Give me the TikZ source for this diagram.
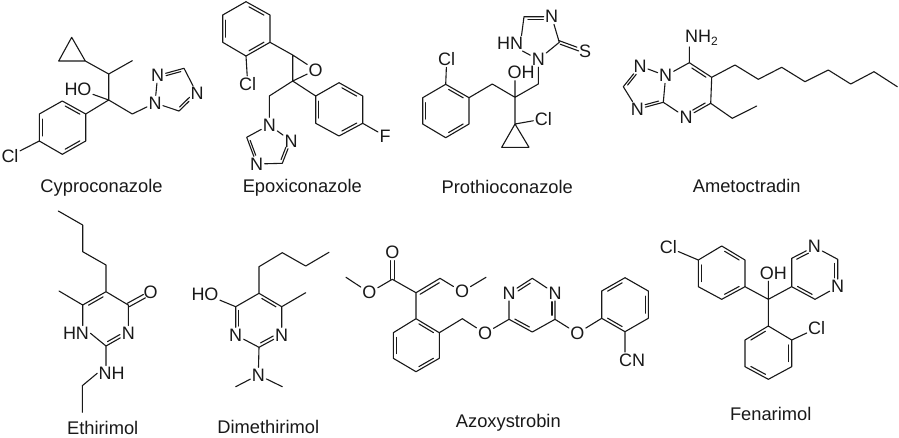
\documentclass[tikz,border=0pt]{standalone}
\usepackage{fontspec}
\setmainfont{Liberation Sans}
\usetikzlibrary{calc}
\tikzset{
  bond/.style={line width=1.1pt,line cap=round,line join=round,color=black!90},
  atom/.style={font=\fontsize{18}{18}\selectfont,inner sep=1.3pt,text=black!90},
  cname/.style={font=\fontsize{18.3}{18.3}\selectfont,inner sep=0pt,text=black!90}
}
\newcommand{\mkc}[3]{\coordinate (#1) at (#2,#3);}
\newcommand{\atm}[4]{\node[atom] (#1) at (#2,#3) {#4};}
% ring double bond: inner line moved toward centre #3, end fractions #4 #5
\newcommand{\rdb}[5]{\draw[bond] ($(#1)!#4!(#2)!.13!(#3)$) -- ($(#2)!#5!(#1)!.13!(#3)$);}
\begin{document}
\begin{tikzpicture}[x=1pt,y=-1pt]
\useasboundingbox (0,0) rectangle (899,437);
\fill[white] (0,0) rectangle (899,437);

%% Cyproconazole
\mkc{a1}{71.7}{37.3}\mkc{a2}{58.7}{61}\mkc{a3}{85.3}{61}
\mkc{a4}{108.7}{74}\mkc{a5}{132.3}{60.7}\mkc{a6}{108.7}{100}\mkc{a7}{132.3}{114}
\atm{aho}{78}{89}{HO}
\atm{an1}{155}{103}{N}\atm{an2}{157.7}{75.5}{N}\atm{an4}{197}{93.5}{N}
\mkc{ac3}{184}{68.3}\mkc{ac5}{179}{111}\mkc{atz}{173}{90}
\mkc{ap1}{85.7}{114}\mkc{ap2}{62.3}{101}\mkc{ap3}{39.3}{114}\mkc{ap4}{39.3}{141}\mkc{ap5}{62.3}{154.3}\mkc{ap6}{85.7}{141}\mkc{apc}{62.5}{127.5}
\atm{acl}{10}{156}{Cl}
\draw[bond] (a1)--(a2)--(a3)--cycle (a3)--(a4)--(a5) (a4)--(a6)--(a7)--(an1)--(an2) (an2)--(ac3)--(an4)--(ac5)--(an1) (a6)--(aho) (a6)--(ap1)--(ap2)--(ap3)--(ap4)--(ap5)--(ap6)--(ap1) (ap4)--(acl);
\rdb{ap1}{ap2}{apc}{.14}{.14}\rdb{ap3}{ap4}{apc}{.14}{.14}\rdb{ap5}{ap6}{apc}{.14}{.14}
\rdb{an2}{ac3}{atz}{.28}{.08}\rdb{an4}{ac5}{atz}{.28}{.08}
\node[cname] (aname) at (101.5,188) {Cyproconazole};

%% Epoxiconazole
\mkc{b1}{246}{1.7}\mkc{b2}{270}{15}\mkc{b3}{270}{42.3}\mkc{b4}{246}{56}\mkc{b5}{222.7}{42.3}\mkc{b6}{222.7}{15}\mkc{bc}{246.3}{28.7}
\atm{bcl}{247.7}{84}{Cl}
\mkc{be1}{292.7}{55}\mkc{be2}{292.7}{81}\atm{bo}{315.7}{70}{O}
\mkc{bch}{269.3}{96}\atm{bn1}{269.3}{125}{N}\atm{bn2}{291}{141}{N}\mkc{bc3}{282.3}{163.3}\atm{bn4}{256.7}{164}{N}\mkc{bc5}{246.7}{137.3}\mkc{btz}{268}{147}
\mkc{bf1}{315.7}{96}\mkc{bf2}{339}{82.7}\mkc{bf3}{362.7}{96}\mkc{bf4}{362.7}{123.3}\mkc{bf5}{339}{136}\mkc{bf6}{315.7}{123.3}\mkc{bfc}{339}{109.5}
\atm{bf}{385}{136}{F}
\draw[bond] (b1)--(b2)--(b3)--(b4)--(b5)--(b6)--(b1) (b4)--(bcl) (b3)--(be1)--(be2) (be1)--(bo)--(be2) (be2)--(bch)--(bn1)--(bn2)--(bc3)--(bn4)--(bc5)--(bn1) (be2)--(bf1)--(bf2)--(bf3)--(bf4)--(bf5)--(bf6)--(bf1) (bf4)--(bf);
\rdb{b1}{b2}{bc}{.14}{.14}\rdb{b3}{b4}{bc}{.14}{.14}\rdb{b5}{b6}{bc}{.14}{.14}
\rdb{bf2}{bf3}{bfc}{.14}{.14}\rdb{bf4}{bf5}{bfc}{.14}{.14}\rdb{bf6}{bf1}{bfc}{.14}{.14}
\rdb{bn2}{bc3}{btz}{.28}{.08}\rdb{bn4}{bc5}{btz}{.28}{.08}
\node[cname] (bname) at (302.3,188) {Epoxiconazole};

%% Prothioconazole
\mkc{c1}{469}{97.7}\mkc{c2}{445.7}{84.3}\mkc{c3}{422.7}{97.7}\mkc{c4}{422.7}{124}\mkc{c5}{445.7}{137.7}\mkc{c6}{469}{124}\mkc{cc}{446}{111}
\atm{ccl}{446.7}{59.3}{Cl}
\mkc{cd}{492.3}{84}\mkc{ce}{515}{97.3}\mkc{cf}{538.3}{84}
\atm{coh}{521}{72.7}{OH}
\mkc{cg}{515}{124}\mkc{ch}{501.7}{147.3}\mkc{ci}{529}{147.3}\atm{ccl2}{543.3}{119}{Cl}
\atm{cn1}{538.3}{59.5}{N}\atm{chn}{510}{43.3}{HN}\mkc{cj}{524}{16.7}\atm{cn4}{551.7}{16.7}{N}\mkc{ck}{559.3}{42.3}\mkc{cz}{540}{36}
\atm{cs}{585}{51.7}{S}
\draw[bond] (c1)--(c2)--(c3)--(c4)--(c5)--(c6)--(c1) (c2)--(ccl) (c1)--(cd)--(ce)--(cf)--(cn1)--(ck)--(cn4)--(cj) (cj)--($(chn.north east)+(-3,0)$) ($(chn.south east)+(-2,0)$)--(cn1) (ce)--(ce|-coh.south) (ce)--(cg)--(ch)--(ci)--(cg)--(ccl2);
\rdb{c1}{c2}{cc}{.14}{.14}\rdb{c3}{c4}{cc}{.14}{.14}\rdb{c5}{c6}{cc}{.14}{.14}
\rdb{cj}{cn4}{cz}{.08}{.28}
\draw[bond] ($(ck)+(-.9,-1.9)$)--($(ck)!.72!(cs)+(-.9,-1.9)$) ($(ck)+(.9,1.9)$)--($(ck)!.72!(cs)+(.9,1.9)$);
\node[cname] (cname) at (507.3,187.3) {Prothioconazole};

%% Ametoctradin
\mkc{d1}{689.3}{62.7}\mkc{d2}{711.7}{77.3}\mkc{d3}{710.7}{103.3}\atm{dn4}{686}{117.3}{N}\mkc{d5}{663.3}{102.3}\atm{dn6}{665.7}{75.7}{N}\mkc{dc}{688}{90}
\atm{dn7}{640}{66}{N}\mkc{d8}{623.3}{86.7}\atm{dn9}{637.3}{109.3}{N}\mkc{dz}{645}{88}
\node[atom] (dnh) at (701.5,37.7) {NH\raisebox{-3pt}{\fontsize{12}{12}\selectfont 2}};
\mkc{e1}{735}{65}\mkc{e2}{758.3}{79.3}\mkc{e3}{781.7}{67.3}\mkc{e4}{805}{81.7}\mkc{e5}{828.3}{70}\mkc{e6}{850.7}{84}\mkc{e7}{874}{71.7}\mkc{e8}{897.3}{86.7}
\mkc{f1}{732.3}{118.3}\mkc{f2}{756.7}{106}
\draw[bond] (d1)--(d2)--(d3)--(dn4)--(d5)--(dn6)--(d1) (d1)--(d1|-dnh.south) (dn6)--(dn7)--(d8)--(dn9)--(d5) (d2)--(e1)--(e2)--(e3)--(e4)--(e5)--(e6)--(e7)--(e8) (d3)--(f1)--(f2);
\rdb{d1}{d2}{dc}{.14}{.14}\rdb{d3}{dn4}{dc}{.12}{.3}
\rdb{dn7}{d8}{dz}{.3}{.1}\rdb{dn9}{d5}{dz}{.3}{.1}
\node[cname] (dname) at (746.7,185.7) {Ametoctradin};

%% Ethirimol
\mkc{g1}{58.3}{211}\mkc{g2}{82.7}{225}\mkc{g3}{82.7}{251.7}\mkc{g4}{106}{265}
\mkc{h1}{106}{291.7}\mkc{h2}{128.3}{305}\atm{hn3}{128.3}{333.3}{N}\mkc{h4}{106}{346}\atm{hhn}{76}{333.3}{HN}\mkc{h6}{82.7}{305}\mkc{hc}{105.5}{319}
\mkc{hm}{59}{291}\atm{ho}{150.7}{292.7}{O}
\atm{hnh}{111.7}{373.3}{NH}\mkc{h7}{82.3}{385.7}\mkc{h8}{82.3}{412.3}
\draw[bond] (g1)--(g2)--(g3)--(g4)--(h1)--(h2)--(hn3)--(h4) (h4)--(hhn.east) (h6)--(h6|-hhn.north) (h6)--(h1) (h6)--(hm) (h4)--(h4|-hnh.north) (hnh.west)--(h7)--(h8);
\rdb{h1}{h6}{hc}{.14}{.14}\rdb{h4}{hn3}{hc}{.08}{.28}
\draw[bond] ($(h2)+(-1,-1.7)$)--($(h2)!.72!(ho)+(-1,-1.7)$) ($(h2)+(1,1.7)$)--($(h2)!.72!(ho)+(1,1.7)$);
\node[cname] (hname) at (102.7,428) {Ethirimol};

%% Dimethirimol
\mkc{j1}{329}{252.3}\mkc{j2}{305.7}{266}\mkc{j3}{282.3}{252.7}\mkc{j4}{259}{266.7}
\mkc{k5}{259}{293.3}\mkc{k6}{281.7}{306.7}\atm{kn1}{281.7}{335}{N}\mkc{k2}{259}{347.3}\atm{kn3}{235.7}{335}{N}\mkc{k4}{235.7}{306.7}\mkc{kc}{258.7}{320}
\mkc{km}{305.7}{292.7}\atm{kho}{205}{294}{HO}
\atm{kn}{258.3}{375}{N}\mkc{km1}{235.7}{386.7}\mkc{km2}{282.3}{386.7}
\draw[bond] (j1)--(j2)--(j3)--(j4)--(k5)--(k6)--(kn1)--(k2)--(kn3)--(k4)--(k5) (k6)--(km) (k4)--(kho) (k2)--(kn) (kn)--(km1) (kn)--(km2);
\rdb{k5}{k6}{kc}{.14}{.14}\rdb{k2}{kn1}{kc}{.08}{.28}\rdb{kn3}{k4}{kc}{.28}{.08}
\node[cname] (kname) at (268.3,426.7) {Dimethirimol};

%% Azoxystrobin
\mkc{m1}{346}{277.3}\atm{mo1}{369.3}{292.7}{O}\mkc{m2}{392.3}{279.3}\atm{mo2}{392.3}{252.7}{O}\mkc{m3}{416}{292.7}\mkc{m4}{440}{278.3}\atm{mo3}{462}{291.7}{O}\mkc{m5}{486}{277.3}
\mkc{n1}{416}{318.7}\mkc{n2}{439.3}{332.7}\mkc{n3}{439.3}{358.3}\mkc{n4}{416}{371.7}\mkc{n5}{393.3}{358.3}\mkc{n6}{393.3}{332.7}\mkc{nc}{416.3}{345.3}
\mkc{n7}{462.3}{318.7}\atm{no1}{485}{333.3}{O}
\mkc{p1}{509}{319.3}\atm{pn2}{509}{293.3}{N}\mkc{p3}{532.3}{278.3}\atm{pn4}{555}{293.3}{N}\mkc{p5}{555}{319.3}\mkc{p6}{532.3}{332}\mkc{pc}{532}{305.5}
\atm{po2}{577.3}{333.3}{O}
\mkc{q1}{601.7}{318.3}\mkc{q2}{601.7}{291}\mkc{q3}{625}{277.7}\mkc{q4}{648.3}{291}\mkc{q5}{648.3}{318.3}\mkc{q6}{625}{331.7}\mkc{qc}{625}{304.7}
\atm{qcn}{632}{360}{CN}
\draw[bond] (m1)--(mo1)--(m2)--(m3)--(n1) (m3)--(m4)--(mo3)--(m5) (n1)--(n2)--(n3)--(n4)--(n5)--(n6)--(n1) (n2)--(n7)--(no1)--(p1)--(pn2)--(p3)--(pn4)--(p5)--(p6)--(p1) (p5)--(po2)--(q1)--(q2)--(q3)--(q4)--(q5)--(q6)--(q1) (q6)--(q6|-qcn.north);
\draw[bond] ($(m2)+(-1.9,0)$)--($(mo2.south)+(-1.9,0)$) ($(m2)+(1.9,0)$)--($(mo2.south)+(1.9,0)$);
\draw[bond] ($(m3)!.1!(m4)+(1.7,3)$)--($(m4)!.1!(m3)+(1.7,3)$);
\rdb{n1}{n2}{nc}{.14}{.14}\rdb{n3}{n4}{nc}{.14}{.14}\rdb{n5}{n6}{nc}{.14}{.14}
\rdb{p1}{p6}{pc}{.14}{.14}\rdb{pn2}{p3}{pc}{.3}{.1}\rdb{pn4}{p5}{pc}{.3}{.1}
\rdb{q2}{q3}{qc}{.14}{.14}\rdb{q4}{q5}{qc}{.14}{.14}\rdb{q6}{q1}{qc}{.14}{.14}
\node[cname] (mname) at (508.3,422.3) {Azoxystrobin};

%% Fenarimol
\atm{rcl}{668.3}{247.3}{Cl}
\mkc{r1}{698.3}{260}\mkc{r2}{721.7}{246}\mkc{r3}{745}{260}\mkc{r4}{745}{286.7}\mkc{r5}{721.7}{299.3}\mkc{r6}{698.3}{286.7}\mkc{rc}{721.7}{273}
\mkc{s}{768.3}{299.3}\atm{soh}{773.3}{273.3}{OH}
\mkc{t1}{791.7}{286.7}\mkc{t2}{791.7}{258.3}\atm{tn3}{814.3}{246.7}{N}\mkc{t4}{837.7}{259.3}\atm{tn5}{837.7}{286.7}{N}\mkc{t6}{815}{299.3}\mkc{tc}{814.7}{273}
\mkc{u1}{768.3}{326}\mkc{u2}{791.7}{340}\mkc{u3}{791.7}{366.7}\mkc{u4}{768.3}{379.3}\mkc{u5}{745}{366.7}\mkc{u6}{745}{340}\mkc{uc}{768.3}{353}
\atm{ucl}{816.7}{328.3}{Cl}
\draw[bond] (rcl)--(r1)--(r2)--(r3)--(r4)--(r5)--(r6)--(r1) (r4)--(s)--(t1)--(t2)--(tn3)--(t4)--(tn5)--(t6)--(t1) (s)--(s|-soh.south) (s)--(u1)--(u2)--(u3)--(u4)--(u5)--(u6)--(u1) (u2)--(ucl);
\rdb{r2}{r3}{rc}{.14}{.14}\rdb{r4}{r5}{rc}{.14}{.14}\rdb{r6}{r1}{rc}{.14}{.14}
\rdb{t2}{tn3}{tc}{.1}{.3}\rdb{t4}{tn5}{tc}{.1}{.3}\rdb{t1}{t6}{tc}{.14}{.14}
\rdb{u1}{u6}{uc}{.14}{.14}\rdb{u2}{u3}{uc}{.14}{.14}\rdb{u4}{u5}{uc}{.14}{.14}
\node[cname] (uname) at (770.7,414) {Fenarimol};
\end{tikzpicture}
\end{document}
